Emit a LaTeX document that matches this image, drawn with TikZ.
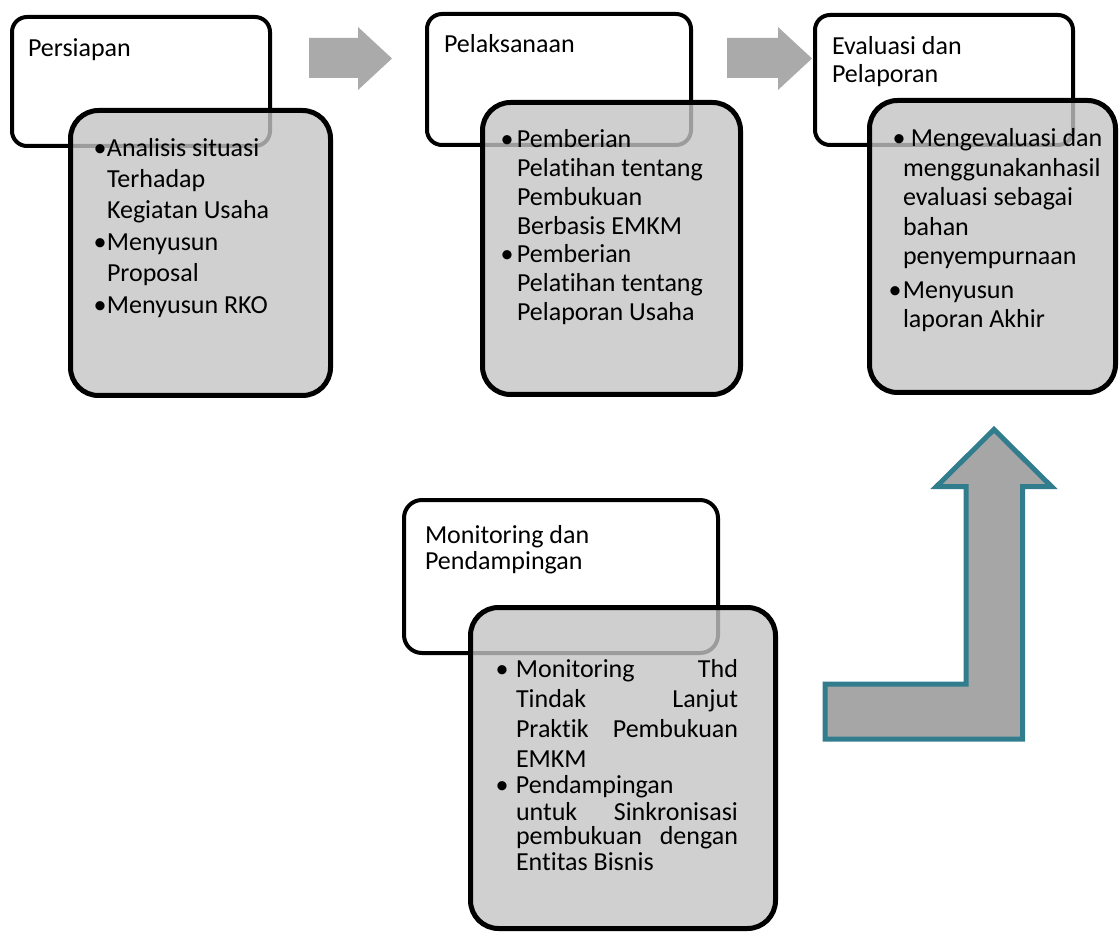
\documentclass[tikz,border=0pt]{standalone}
\usepackage{fontspec}
\setmainfont{Carlito}[Ligatures=NoCommon]
\definecolor{boxgray}{RGB}{196,196,196}
\definecolor{flatgray}{RGB}{170,170,170}
\definecolor{bentgray}{RGB}{166,166,166}
\definecolor{tealline}{RGB}{49,125,141}
\newcommand{\bulat}[1]{\llap{\makebox[0pt][c]{\textbullet}\hspace{#1pt}}}
\tikzset{
  whitebox/.style={draw=black, line width=4pt, fill=white, rounded corners=15pt, inner sep=0pt},
  graybox/.style={draw=black, line width=5pt, fill=boxgray, fill opacity=0.8, rounded corners=28pt},
  txt/.style={anchor=base west, inner sep=0pt, outer sep=0pt, text=black},
  flatarrow/.style={fill=flatgray, draw=none},
  bentarrow/.style={fill=bentgray, draw=tealline, line width=5pt, line join=miter},
}
\begin{document}
\begin{tikzpicture}[x=1pt,y=-1pt]
\useasboundingbox (0,0) rectangle (1120,933);
\fontsize{26}{30}\selectfont
% ---------- Persiapan
\draw[whitebox] (12,17) rectangle (270,146);
\draw[graybox] (70.5,110.5) rectangle (330.5,395.5);
\node[txt] (t1) at (28,57) {Persiapan};
\node[txt] (b1) at (107,157) {\fontsize{26}{31}\selectfont\begin{tabular}[t]{@{}l@{}}
\bulat{7}Analisis situasi\\
Terhadap\\
Kegiatan Usaha\\[1pt]
\bulat{7}Menyusun\\
Proposal\\[1pt]
\bulat{7}Menyusun RKO
\end{tabular}};
% ---------- Pelaksanaan
\draw[whitebox] (427,14) rectangle (691,145);
\draw[graybox] (482.5,102.5) rectangle (740.5,394.5);
\node[txt] (t2) at (444,53) {Pelaksanaan};
\node[txt] (b2) at (517,148) {\fontsize{26}{28.7}\selectfont\begin{tabular}[t]{@{}l@{}}
\bulat{10}Pemberian\\
Pelatihan tentang\\
Pembukuan\\
Berbasis EMKM\\
\bulat{10}Pemberian\\
Pelatihan tentang\\
Pelaporan Usaha
\end{tabular}};
% ---------- Evaluasi dan Pelaporan
\draw[whitebox] (815,15) rectangle (1073,145);
\draw[graybox] (869.5,100.5) rectangle (1115.5,392.5);
\node[txt] (t3) at (832,55) {\fontsize{26}{28}\selectfont\begin{tabular}[t]{@{}l@{}}
Evaluasi dan\\
Pelaporan
\end{tabular}};
\node[txt] (b3) at (903,147) {\fontsize{26}{29.5}\selectfont\begin{tabular}[t]{@{}l@{}}
\bulat{4}\hspace{8pt}Mengevaluasi dan\\
menggunakanhasil\\
evaluasi sebagai\\
bahan\\
penyempurnaan\\[4pt]
\bulat{8}Menyusun\\
laporan Akhir
\end{tabular}};
% ---------- Monitoring dan Pendampingan
\draw[whitebox, rounded corners=18pt] (404,500) rectangle (718,653);
\draw[graybox] (470.5,607.5) rectangle (775.5,928.5);
\node[txt] (t4) at (425,543) {\fontsize{26}{26}\selectfont\begin{tabular}[t]{@{}l@{}}
Monitoring dan\\
Pendampingan
\end{tabular}};
\node[txt] (b4) at (516,677) {\fontsize{26}{30}\selectfont\begin{tabular}[t]{@{}l@{}}
\bulat{14}\makebox[222pt][s]{Monitoring\hfill Thd}\\
\makebox[222pt][s]{Tindak\hfill Lanjut}\\
\makebox[222pt][s]{Praktik\hfill Pembukuan}\\
EMKM\\[-4pt]
\bulat{14}Pendampingan\\[-3pt]
\makebox[222pt][s]{untuk\hfill Sinkronisasi}\\[-6pt]
\makebox[222pt][s]{pembukuan\hfill dengan}\\[-4pt]
Entitas Bisnis
\end{tabular}};
% ---------- flat arrows
\fill[flatarrow] (309,38) -- (358,38) -- (358,27) -- (392,58.5) -- (358,90) -- (358,78) -- (309,78) -- cycle;
\fill[flatarrow] (727,38) -- (778,38) -- (778,27) -- (812,58.5) -- (778,90) -- (778,78) -- (727,78) -- cycle;
% ---------- bent arrow
\draw[bentarrow] (994,429.5) -- (1051.5,486.5) -- (1022.5,486.5) -- (1022.5,739) -- (825,739) -- (825,684) -- (966,684) -- (966,486.5) -- (936.5,486.5) -- cycle;
\end{tikzpicture}
\end{document}
